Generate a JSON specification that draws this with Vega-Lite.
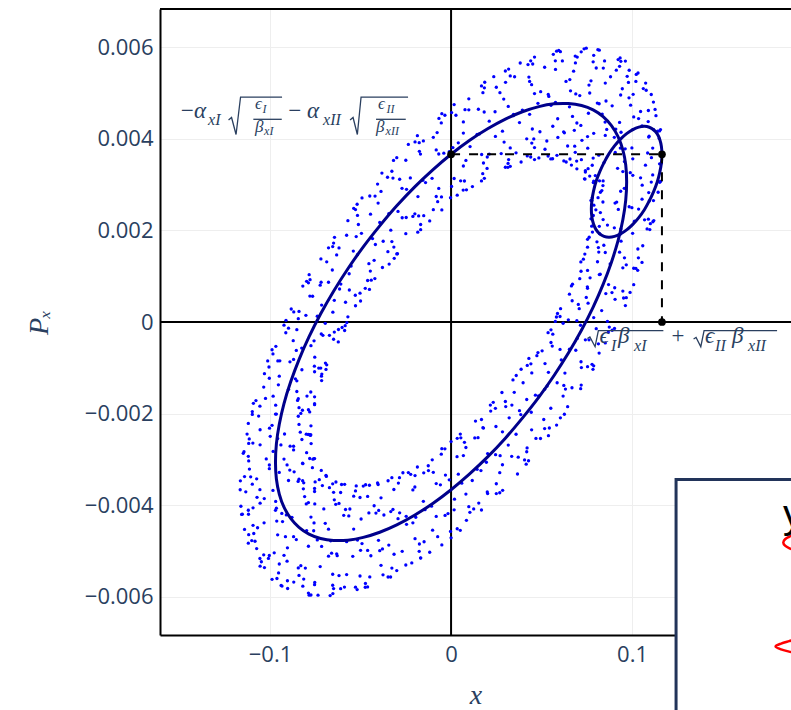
{
"$schema":"https://vega.github.io/schema/vega-lite/v6.json",
"width":631,"height":626,
"autosize":{"type":"none"},
"padding":{"left":160,"top":9,"right":0,"bottom":75},
"background":"white",
"config":{"view":{"stroke":null},
"axis":{"domainColor":"#000000","domainWidth":2,"ticks":false,"grid":true,"gridColor":"#eeeeee","gridWidth":1,"labelColor":"#2a3f5f","labelFont":"Open Sans","labelFontSize":22,"titleColor":"#2a3f5f","titleFont":"Liberation Serif","titleFontStyle":"italic","titleFontWeight":"normal","titleFontSize":28,"labelFlush":false,"labelOverlap":false}},
"datasets":{
"dots":[
{"x":116.2e-3,"y":3469e-6},{"x":77.8e-3,"y":2651e-6},{"x":109.5e-3,"y":2642e-6},{"x":84.5e-3,"y":3478e-6},{"x":93.6e-3,"y":1922e-6},{"x":100.4e-3,"y":4198e-6},{"x":82.1e-3,"y":1925e-6},{"x":111.9e-3,"y":4195e-6},
{"x":111.8e-3,"y":2650e-6},{"x":82.0e-3,"y":3080e-6},{"x":100.3e-3,"y":1935e-6},{"x":93.5e-3,"y":3795e-6},{"x":84.4e-3,"y":1675e-6},{"x":109.4e-3,"y":4055e-6},{"x":77.7e-3,"y":2092e-6},{"x":116.1e-3,"y":3638e-6},
{"x":115.7e-3,"y":3070e-6},{"x":77.3e-3,"y":2252e-6},{"x":109.0e-3,"y":2243e-6},{"x":84.0e-3,"y":3079e-6},{"x":93.1e-3,"y":1523e-6},{"x":99.9e-3,"y":3799e-6},{"x":81.6e-3,"y":1526e-6},{"x":111.4e-3,"y":3796e-6},
{"x":108.3e-3,"y":2032e-6},{"x":83.3e-3,"y":2868e-6},{"x":95.8e-3,"y":1400e-6},{"x":95.8e-3,"y":3500e-6},{"x":80.9e-3,"y":1315e-6},{"x":110.7e-3,"y":3585e-6},{"x":76.3e-3,"y":1850e-6},{"x":115.3e-3,"y":3050e-6},
{"x":114.4e-3,"y":2832e-6},{"x":75.4e-3,"y":1632e-6},{"x":109.8e-3,"y":2017e-6},{"x":80.0e-3,"y":2447e-6},{"x":94.9e-3,"y":1182e-6},{"x":94.9e-3,"y":3282e-6},{"x":82.4e-3,"y":1042e-6},{"x":107.4e-3,"y":3422e-6},
{"x":112.0e-3,"y":2214e-6},{"x":75.4e-3,"y":1804e-6},{"x":103.5e-3,"y":1400e-6},{"x":83.9e-3,"y":2618e-6},{"x":87.0e-3,"y":817e-6},{"x":100.4e-3,"y":3201e-6},{"x":76.8e-3,"y":964e-6},{"x":110.6e-3,"y":3054e-6},
{"x":102.1e-3,"y":1170e-6},{"x":82.5e-3,"y":2388e-6},{"x":88.9e-3,"y":641e-6},{"x":95.7e-3,"y":2917e-6},{"x":75.4e-3,"y":734e-6},{"x":109.2e-3,"y":2824e-6},{"x":73.1e-3,"y":1370e-6},{"x":111.5e-3,"y":2188e-6},
{"x":103.1e-3,"y":1127e-6},{"x":78.1e-3,"y":1963e-6},{"x":90.6e-3,"y":495e-6},{"x":90.6e-3,"y":2595e-6},{"x":75.7e-3,"y":410e-6},{"x":105.5e-3,"y":2680e-6},{"x":71.1e-3,"y":945e-6},{"x":110.1e-3,"y":2145e-6},
{"x":105.5e-3,"y":1301e-6},{"x":71.7e-3,"y":1311e-6},{"x":95.3e-3,"y":524e-6},{"x":81.9e-3,"y":2088e-6},{"x":78.8e-3,"y":97e-6},{"x":98.4e-3,"y":2515e-6},{"x":70.3e-3,"y":383e-6},{"x":106.9e-3,"y":2229e-6},
{"x":98.9e-3,"y":646e-6},{"x":73.9e-3,"y":1482e-6},{"x":86.4e-3,"y":14e-6},{"x":86.4e-3,"y":2114e-6},{"x":71.5e-3,"y":-71e-6},{"x":101.3e-3,"y":2199e-6},{"x":66.9e-3,"y":464e-6},{"x":105.9e-3,"y":1664e-6},
{"x":87.4e-3,"y":-110e-6},{"x":80.6e-3,"y":1750e-6},{"x":74.2e-3,"y":-389e-6},{"x":93.8e-3,"y":2029e-6},{"x":64.8e-3,"y":47e-6},{"x":103.2e-3,"y":1593e-6},{"x":67.1e-3,"y":825e-6},{"x":100.9e-3,"y":815e-6},
{"x":100.9e-3,"y":1173e-6},{"x":61.9e-3,"y":-27e-6},{"x":96.3e-3,"y":358e-6},{"x":66.5e-3,"y":788e-6},{"x":81.4e-3,"y":-477e-6},{"x":81.4e-3,"y":1623e-6},{"x":68.9e-3,"y":-617e-6},{"x":93.9e-3,"y":1763e-6},
{"x":85.2e-3,"y":-457e-6},{"x":71.8e-3,"y":1107e-6},{"x":71.8e-3,"y":-867e-6},{"x":85.2e-3,"y":1517e-6},{"x":60.2e-3,"y":-598e-6},{"x":96.8e-3,"y":1248e-6},{"x":60.2e-3,"y":120e-6},{"x":96.8e-3,"y":530e-6},
{"x":94.9e-3,"y":675e-6},{"x":55.9e-3,"y":-525e-6},{"x":90.3e-3,"y":-140e-6},{"x":60.5e-3,"y":290e-6},{"x":75.4e-3,"y":-975e-6},{"x":75.4e-3,"y":1125e-6},{"x":62.9e-3,"y":-1115e-6},{"x":87.9e-3,"y":1265e-6},
{"x":89.0e-3,"y":-180e-6},{"x":55.2e-3,"y":-170e-6},{"x":78.8e-3,"y":-957e-6},{"x":65.4e-3,"y":607e-6},{"x":62.3e-3,"y":-1384e-6},{"x":81.9e-3,"y":1034e-6},{"x":53.8e-3,"y":-1098e-6},{"x":90.4e-3,"y":748e-6},
{"x":86.9e-3,"y":-219e-6},{"x":50.3e-3,"y":-629e-6},{"x":78.4e-3,"y":-1033e-6},{"x":58.8e-3,"y":185e-6},{"x":61.9e-3,"y":-1616e-6},{"x":75.3e-3,"y":768e-6},{"x":51.7e-3,"y":-1469e-6},{"x":85.5e-3,"y":621e-6},
{"x":81.8e-3,"y":-678e-6},{"x":48.0e-3,"y":-668e-6},{"x":71.6e-3,"y":-1455e-6},{"x":58.2e-3,"y":109e-6},{"x":55.1e-3,"y":-1882e-6},{"x":74.7e-3,"y":536e-6},{"x":46.6e-3,"y":-1596e-6},{"x":83.2e-3,"y":250e-6},
{"x":64.4e-3,"y":-1848e-6},{"x":57.6e-3,"y":12e-6},{"x":51.2e-3,"y":-2127e-6},{"x":70.8e-3,"y":291e-6},{"x":41.8e-3,"y":-1691e-6},{"x":80.2e-3,"y":-145e-6},{"x":44.1e-3,"y":-913e-6},{"x":77.9e-3,"y":-923e-6},
{"x":71.9e-3,"y":-1377e-6},{"x":42.1e-3,"y":-947e-6},{"x":60.4e-3,"y":-2092e-6},{"x":53.6e-3,"y":-232e-6},{"x":44.5e-3,"y":-2352e-6},{"x":69.5e-3,"y":28e-6},{"x":37.8e-3,"y":-1935e-6},{"x":76.2e-3,"y":-389e-6},
{"x":62.6e-3,"y":-2013e-6},{"x":43.0e-3,"y":-795e-6},{"x":49.4e-3,"y":-2542e-6},{"x":56.2e-3,"y":-266e-6},{"x":35.9e-3,"y":-2449e-6},{"x":69.7e-3,"y":-359e-6},{"x":33.6e-3,"y":-1813e-6},{"x":72.0e-3,"y":-995e-6},
{"x":66.8e-3,"y":-1435e-6},{"x":30.2e-3,"y":-1845e-6},{"x":58.3e-3,"y":-2249e-6},{"x":38.7e-3,"y":-1031e-6},{"x":41.8e-3,"y":-2832e-6},{"x":55.2e-3,"y":-448e-6},{"x":31.6e-3,"y":-2685e-6},{"x":65.4e-3,"y":-595e-6},
{"x":53.8e-3,"y":-2481e-6},{"x":34.2e-3,"y":-1263e-6},{"x":40.6e-3,"y":-3010e-6},{"x":47.4e-3,"y":-734e-6},{"x":27.1e-3,"y":-2917e-6},{"x":60.9e-3,"y":-827e-6},{"x":24.8e-3,"y":-2281e-6},{"x":63.2e-3,"y":-1463e-6},
{"x":54.3e-3,"y":-2313e-6},{"x":24.5e-3,"y":-1883e-6},{"x":42.8e-3,"y":-3028e-6},{"x":36.0e-3,"y":-1168e-6},{"x":26.9e-3,"y":-3288e-6},{"x":51.9e-3,"y":-908e-6},{"x":20.2e-3,"y":-2871e-6},{"x":58.6e-3,"y":-1325e-6},
{"x":51.7e-3,"y":-2325e-6},{"x":17.9e-3,"y":-2315e-6},{"x":41.5e-3,"y":-3102e-6},{"x":28.1e-3,"y":-1538e-6},{"x":25.0e-3,"y":-3529e-6},{"x":44.6e-3,"y":-1111e-6},{"x":16.5e-3,"y":-3243e-6},{"x":53.1e-3,"y":-1397e-6},
{"x":46.9e-3,"y":-2540e-6},{"x":13.1e-3,"y":-2530e-6},{"x":36.7e-3,"y":-3317e-6},{"x":23.3e-3,"y":-1753e-6},{"x":20.2e-3,"y":-3744e-6},{"x":39.8e-3,"y":-1326e-6},{"x":11.7e-3,"y":-3458e-6},{"x":48.3e-3,"y":-1612e-6},
{"x":28.5e-3,"y":-3673e-6},{"x":21.7e-3,"y":-1813e-6},{"x":15.3e-3,"y":-3952e-6},{"x":34.9e-3,"y":-1534e-6},{"x":5.9e-3,"y":-3516e-6},{"x":44.3e-3,"y":-1970e-6},{"x":8.2e-3,"y":-2738e-6},{"x":42.0e-3,"y":-2748e-6},
{"x":37.1e-3,"y":-2949e-6},{"x":3.3e-3,"y":-2939e-6},{"x":26.9e-3,"y":-3726e-6},{"x":13.5e-3,"y":-2162e-6},{"x":10.4e-3,"y":-4153e-6},{"x":30.0e-3,"y":-1735e-6},{"x":1.9e-3,"y":-3867e-6},{"x":38.5e-3,"y":-2021e-6},
{"x":33.5e-3,"y":-2931e-6},{"x":-3.1e-3,"y":-3341e-6},{"x":25.0e-3,"y":-3745e-6},{"x":5.4e-3,"y":-2527e-6},{"x":8.5e-3,"y":-4328e-6},{"x":21.9e-3,"y":-1944e-6},{"x":-1.7e-3,"y":-4181e-6},{"x":32.1e-3,"y":-2091e-6},
{"x":16.8e-3,"y":-4102e-6},{"x":3.4e-3,"y":-2538e-6},{"x":3.4e-3,"y":-4512e-6},{"x":16.8e-3,"y":-2128e-6},{"x":-8.2e-3,"y":-4243e-6},{"x":28.4e-3,"y":-2397e-6},{"x":-8.2e-3,"y":-3525e-6},{"x":28.4e-3,"y":-3115e-6},
{"x":24.6e-3,"y":-2895e-6},{"x":-14.4e-3,"y":-4095e-6},{"x":20.0e-3,"y":-3710e-6},{"x":-9.8e-3,"y":-3280e-6},{"x":5.1e-3,"y":-4545e-6},{"x":5.1e-3,"y":-2445e-6},{"x":-7.4e-3,"y":-4685e-6},{"x":17.6e-3,"y":-2305e-6},
{"x":12.5e-3,"y":-4078e-6},{"x":-12.5e-3,"y":-3242e-6},{"x":0e-3,"y":-4710e-6},{"x":0e-3,"y":-2610e-6},{"x":-14.9e-3,"y":-4795e-6},{"x":14.9e-3,"y":-2525e-6},{"x":-19.5e-3,"y":-4260e-6},{"x":19.5e-3,"y":-3060e-6},
{"x":14.4e-3,"y":-3215e-6},{"x":-24.6e-3,"y":-4415e-6},{"x":9.8e-3,"y":-4030e-6},{"x":-20.0e-3,"y":-3600e-6},{"x":-5.1e-3,"y":-4865e-6},{"x":-5.1e-3,"y":-2765e-6},{"x":-17.6e-3,"y":-5005e-6},{"x":7.4e-3,"y":-2625e-6},
{"x":8.2e-3,"y":-3755e-6},{"x":-28.4e-3,"y":-4165e-6},{"x":-0.3e-3,"y":-4569e-6},{"x":-19.9e-3,"y":-3351e-6},{"x":-16.8e-3,"y":-5152e-6},{"x":-3.4e-3,"y":-2768e-6},{"x":-27.0e-3,"y":-5005e-6},{"x":6.8e-3,"y":-2915e-6},
{"x":-11.8e-3,"y":-5024e-6},{"x":-18.6e-3,"y":-3164e-6},{"x":-25.0e-3,"y":-5303e-6},{"x":-5.4e-3,"y":-2885e-6},{"x":-34.4e-3,"y":-4867e-6},{"x":4.0e-3,"y":-3321e-6},{"x":-32.1e-3,"y":-4089e-6},{"x":1.7e-3,"y":-4099e-6},
{"x":-16.8e-3,"y":-5146e-6},{"x":-23.6e-3,"y":-3286e-6},{"x":-30.0e-3,"y":-5425e-6},{"x":-10.4e-3,"y":-3007e-6},{"x":-39.4e-3,"y":-4989e-6},{"x":-1.0e-3,"y":-3443e-6},{"x":-37.1e-3,"y":-4211e-6},{"x":-3.3e-3,"y":-4221e-6},
{"x":-10.2e-3,"y":-4542e-6},{"x":-40.0e-3,"y":-4112e-6},{"x":-21.7e-3,"y":-5257e-6},{"x":-28.5e-3,"y":-3397e-6},{"x":-37.6e-3,"y":-5517e-6},{"x":-12.6e-3,"y":-3137e-6},{"x":-44.3e-3,"y":-5100e-6},{"x":-5.9e-3,"y":-3554e-6},
{"x":-10.8e-3,"y":-4018e-6},{"x":-49.2e-3,"y":-4836e-6},{"x":-17.5e-3,"y":-4845e-6},{"x":-42.5e-3,"y":-4009e-6},{"x":-33.4e-3,"y":-5565e-6},{"x":-26.6e-3,"y":-3289e-6},{"x":-44.9e-3,"y":-5562e-6},{"x":-15.1e-3,"y":-3292e-6},
{"x":-15.3e-3,"y":-3914e-6},{"x":-54.3e-3,"y":-5114e-6},{"x":-19.9e-3,"y":-4729e-6},{"x":-49.7e-3,"y":-4299e-6},{"x":-34.8e-3,"y":-5564e-6},{"x":-34.8e-3,"y":-3464e-6},{"x":-47.3e-3,"y":-5704e-6},{"x":-22.3e-3,"y":-3324e-6},
{"x":-32.7e-3,"y":-5370e-6},{"x":-46.1e-3,"y":-3806e-6},{"x":-46.1e-3,"y":-5780e-6},{"x":-32.7e-3,"y":-3396e-6},{"x":-57.7e-3,"y":-5511e-6},{"x":-21.1e-3,"y":-3665e-6},{"x":-57.7e-3,"y":-4793e-6},{"x":-21.1e-3,"y":-4383e-6},
{"x":-24.8e-3,"y":-4241e-6},{"x":-63.2e-3,"y":-5059e-6},{"x":-31.5e-3,"y":-5068e-6},{"x":-56.5e-3,"y":-4232e-6},{"x":-47.4e-3,"y":-5788e-6},{"x":-40.6e-3,"y":-3512e-6},{"x":-58.9e-3,"y":-5785e-6},{"x":-29.1e-3,"y":-3515e-6},
{"x":-38.7e-3,"y":-5309e-6},{"x":-58.3e-3,"y":-4091e-6},{"x":-51.9e-3,"y":-5838e-6},{"x":-45.1e-3,"y":-3562e-6},{"x":-65.4e-3,"y":-5745e-6},{"x":-31.6e-3,"y":-3655e-6},{"x":-67.7e-3,"y":-5109e-6},{"x":-29.3e-3,"y":-4291e-6},
{"x":-33.3e-3,"y":-4136e-6},{"x":-72.3e-3,"y":-5336e-6},{"x":-37.9e-3,"y":-4951e-6},{"x":-67.7e-3,"y":-4521e-6},{"x":-52.8e-3,"y":-5786e-6},{"x":-52.8e-3,"y":-3686e-6},{"x":-65.3e-3,"y":-5926e-6},{"x":-40.3e-3,"y":-3546e-6},
{"x":-40.1e-3,"y":-4765e-6},{"x":-73.9e-3,"y":-4755e-6},{"x":-50.3e-3,"y":-5542e-6},{"x":-63.7e-3,"y":-3978e-6},{"x":-66.8e-3,"y":-5969e-6},{"x":-47.2e-3,"y":-3551e-6},{"x":-75.3e-3,"y":-5683e-6},{"x":-38.7e-3,"y":-3837e-6},
{"x":-41.5e-3,"y":-4170e-6},{"x":-80.5e-3,"y":-5370e-6},{"x":-46.1e-3,"y":-4985e-6},{"x":-75.9e-3,"y":-4555e-6},{"x":-61.0e-3,"y":-5820e-6},{"x":-61.0e-3,"y":-3720e-6},{"x":-73.5e-3,"y":-5960e-6},{"x":-48.5e-3,"y":-3580e-6},
{"x":-45.4e-3,"y":-4167e-6},{"x":-84.4e-3,"y":-5367e-6},{"x":-50.0e-3,"y":-4982e-6},{"x":-79.8e-3,"y":-4552e-6},{"x":-64.9e-3,"y":-5817e-6},{"x":-64.9e-3,"y":-3717e-6},{"x":-77.4e-3,"y":-5957e-6},{"x":-52.4e-3,"y":-3577e-6},
{"x":-51.7e-3,"y":-4757e-6},{"x":-85.5e-3,"y":-4747e-6},{"x":-61.9e-3,"y":-5534e-6},{"x":-75.3e-3,"y":-3970e-6},{"x":-78.4e-3,"y":-5961e-6},{"x":-58.8e-3,"y":-3543e-6},{"x":-86.9e-3,"y":-5675e-6},{"x":-50.3e-3,"y":-3829e-6},
{"x":-65.4e-3,"y":-5505e-6},{"x":-78.8e-3,"y":-3941e-6},{"x":-78.8e-3,"y":-5915e-6},{"x":-65.4e-3,"y":-3531e-6},{"x":-90.4e-3,"y":-5646e-6},{"x":-53.8e-3,"y":-3800e-6},{"x":-90.4e-3,"y":-4928e-6},{"x":-53.8e-3,"y":-4518e-6},
{"x":-62.9e-3,"y":-5099e-6},{"x":-87.9e-3,"y":-4263e-6},{"x":-75.4e-3,"y":-5731e-6},{"x":-75.4e-3,"y":-3631e-6},{"x":-90.3e-3,"y":-5816e-6},{"x":-60.5e-3,"y":-3546e-6},{"x":-94.9e-3,"y":-5281e-6},{"x":-55.9e-3,"y":-4081e-6},
{"x":-59.3e-3,"y":-4218e-6},{"x":-97.7e-3,"y":-5036e-6},{"x":-66.0e-3,"y":-5045e-6},{"x":-91.0e-3,"y":-4209e-6},{"x":-81.9e-3,"y":-5765e-6},{"x":-75.1e-3,"y":-3489e-6},{"x":-93.4e-3,"y":-5762e-6},{"x":-63.6e-3,"y":-3492e-6},
{"x":-61.9e-3,"y":-3959e-6},{"x":-100.9e-3,"y":-5159e-6},{"x":-66.5e-3,"y":-4774e-6},{"x":-96.3e-3,"y":-4344e-6},{"x":-81.4e-3,"y":-5609e-6},{"x":-81.4e-3,"y":-3509e-6},{"x":-93.9e-3,"y":-5749e-6},{"x":-68.9e-3,"y":-3369e-6},
{"x":-71.5e-3,"y":-4898e-6},{"x":-96.5e-3,"y":-4062e-6},{"x":-84.0e-3,"y":-5530e-6},{"x":-84.0e-3,"y":-3430e-6},{"x":-98.9e-3,"y":-5615e-6},{"x":-69.1e-3,"y":-3345e-6},{"x":-103.5e-3,"y":-5080e-6},{"x":-64.5e-3,"y":-3880e-6},
{"x":-83.0e-3,"y":-5318e-6},{"x":-89.8e-3,"y":-3458e-6},{"x":-96.2e-3,"y":-5597e-6},{"x":-76.6e-3,"y":-3179e-6},{"x":-105.6e-3,"y":-5161e-6},{"x":-67.2e-3,"y":-3615e-6},{"x":-103.3e-3,"y":-4383e-6},{"x":-69.5e-3,"y":-4393e-6},
{"x":-70.3e-3,"y":-4079e-6},{"x":-106.9e-3,"y":-4489e-6},{"x":-78.8e-3,"y":-4893e-6},{"x":-98.4e-3,"y":-3675e-6},{"x":-95.3e-3,"y":-5476e-6},{"x":-81.9e-3,"y":-3092e-6},{"x":-105.5e-3,"y":-5329e-6},{"x":-71.7e-3,"y":-3239e-6},
{"x":-71.1e-3,"y":-3569e-6},{"x":-110.1e-3,"y":-4769e-6},{"x":-75.7e-3,"y":-4384e-6},{"x":-105.5e-3,"y":-3954e-6},{"x":-90.6e-3,"y":-5219e-6},{"x":-90.6e-3,"y":-3119e-6},{"x":-103.1e-3,"y":-5359e-6},{"x":-78.1e-3,"y":-2979e-6},
{"x":-72.8e-3,"y":-3441e-6},{"x":-111.8e-3,"y":-4641e-6},{"x":-77.4e-3,"y":-4256e-6},{"x":-107.2e-3,"y":-3826e-6},{"x":-92.3e-3,"y":-5091e-6},{"x":-92.3e-3,"y":-2991e-6},{"x":-104.8e-3,"y":-5231e-6},{"x":-79.8e-3,"y":-2851e-6},
{"x":-87.0e-3,"y":-4685e-6},{"x":-100.4e-3,"y":-3121e-6},{"x":-100.4e-3,"y":-5095e-6},{"x":-87.0e-3,"y":-2711e-6},{"x":-112.0e-3,"y":-4826e-6},{"x":-75.4e-3,"y":-2980e-6},{"x":-112.0e-3,"y":-4108e-6},{"x":-75.4e-3,"y":-3698e-6},
{"x":-80.0e-3,"y":-3969e-6},{"x":-109.8e-3,"y":-3539e-6},{"x":-91.5e-3,"y":-4684e-6},{"x":-98.3e-3,"y":-2824e-6},{"x":-107.4e-3,"y":-4944e-6},{"x":-82.4e-3,"y":-2564e-6},{"x":-114.1e-3,"y":-4527e-6},{"x":-75.7e-3,"y":-2981e-6},
{"x":-76.3e-3,"y":-2994e-6},{"x":-115.3e-3,"y":-4194e-6},{"x":-80.9e-3,"y":-3809e-6},{"x":-110.7e-3,"y":-3379e-6},{"x":-95.8e-3,"y":-4644e-6},{"x":-95.8e-3,"y":-2544e-6},{"x":-108.3e-3,"y":-4784e-6},{"x":-83.3e-3,"y":-2404e-6},
{"x":-81.6e-3,"y":-3640e-6},{"x":-111.4e-3,"y":-3210e-6},{"x":-93.1e-3,"y":-4355e-6},{"x":-99.9e-3,"y":-2495e-6},{"x":-109.0e-3,"y":-4615e-6},{"x":-84.0e-3,"y":-2235e-6},{"x":-115.7e-3,"y":-4198e-6},{"x":-77.3e-3,"y":-2652e-6},
{"x":-82.0e-3,"y":-3462e-6},{"x":-111.8e-3,"y":-3032e-6},{"x":-93.5e-3,"y":-4177e-6},{"x":-100.3e-3,"y":-2317e-6},{"x":-109.4e-3,"y":-4437e-6},{"x":-84.4e-3,"y":-2057e-6},{"x":-116.1e-3,"y":-4020e-6},{"x":-77.7e-3,"y":-2474e-6},
{"x":-84.5e-3,"y":-3478e-6},{"x":-109.5e-3,"y":-2642e-6},{"x":-97.0e-3,"y":-4110e-6},{"x":-97.0e-3,"y":-2010e-6},{"x":-111.9e-3,"y":-4195e-6},{"x":-82.1e-3,"y":-1925e-6},{"x":-116.5e-3,"y":-3660e-6},{"x":-77.5e-3,"y":-2460e-6},
{"x":-77.4e-3,"y":-2265e-6},{"x":-116.4e-3,"y":-3465e-6},{"x":-82.0e-3,"y":-3080e-6},{"x":-111.8e-3,"y":-2650e-6},{"x":-96.9e-3,"y":-3915e-6},{"x":-96.9e-3,"y":-1815e-6},{"x":-109.4e-3,"y":-4055e-6},{"x":-84.4e-3,"y":-1675e-6},
{"x":-78.2e-3,"y":-2456e-6},{"x":-114.8e-3,"y":-2866e-6},{"x":-86.7e-3,"y":-3270e-6},{"x":-106.3e-3,"y":-2052e-6},{"x":-103.2e-3,"y":-3853e-6},{"x":-89.8e-3,"y":-1469e-6},{"x":-113.4e-3,"y":-3706e-6},{"x":-79.6e-3,"y":-1616e-6},
{"x":-78.9e-3,"y":-2455e-6},{"x":-112.7e-3,"y":-2445e-6},{"x":-89.1e-3,"y":-3232e-6},{"x":-102.5e-3,"y":-1668e-6},{"x":-105.6e-3,"y":-3659e-6},{"x":-86.0e-3,"y":-1241e-6},{"x":-114.1e-3,"y":-3373e-6},{"x":-77.5e-3,"y":-1527e-6},
{"x":-75.4e-3,"y":-1632e-6},{"x":-114.4e-3,"y":-2832e-6},{"x":-80.0e-3,"y":-2447e-6},{"x":-109.8e-3,"y":-2017e-6},{"x":-94.9e-3,"y":-3282e-6},{"x":-94.9e-3,"y":-1182e-6},{"x":-107.4e-3,"y":-3422e-6},{"x":-82.4e-3,"y":-1042e-6},
{"x":-87.0e-3,"y":-2791e-6},{"x":-100.4e-3,"y":-1227e-6},{"x":-100.4e-3,"y":-3201e-6},{"x":-87.0e-3,"y":-817e-6},{"x":-112.0e-3,"y":-2932e-6},{"x":-75.4e-3,"y":-1086e-6},{"x":-112.0e-3,"y":-2214e-6},{"x":-75.4e-3,"y":-1804e-6},
{"x":-88.9e-3,"y":-2709e-6},{"x":-95.7e-3,"y":-849e-6},{"x":-102.1e-3,"y":-2988e-6},{"x":-82.5e-3,"y":-570e-6},{"x":-111.5e-3,"y":-2552e-6},{"x":-73.1e-3,"y":-1006e-6},{"x":-109.2e-3,"y":-1774e-6},{"x":-75.4e-3,"y":-1784e-6},
{"x":-71.4e-3,"y":-1136e-6},{"x":-109.8e-3,"y":-1954e-6},{"x":-78.1e-3,"y":-1963e-6},{"x":-103.1e-3,"y":-1127e-6},{"x":-94.0e-3,"y":-2683e-6},{"x":-87.2e-3,"y":-407e-6},{"x":-105.5e-3,"y":-2680e-6},{"x":-75.7e-3,"y":-410e-6},
{"x":-78.8e-3,"y":-1915e-6},{"x":-98.4e-3,"y":-697e-6},{"x":-92.0e-3,"y":-2444e-6},{"x":-85.2e-3,"y":-168e-6},{"x":-105.5e-3,"y":-2351e-6},{"x":-71.7e-3,"y":-261e-6},{"x":-107.8e-3,"y":-1715e-6},{"x":-69.4e-3,"y":-897e-6},
{"x":-71.5e-3,"y":-1279e-6},{"x":-101.3e-3,"y":-849e-6},{"x":-83.0e-3,"y":-1994e-6},{"x":-89.8e-3,"y":-134e-6},{"x":-98.9e-3,"y":-2254e-6},{"x":-73.9e-3,"y":126e-6},{"x":-105.6e-3,"y":-1837e-6},{"x":-67.2e-3,"y":-291e-6},
{"x":-64.5e-3,"y":-220e-6},{"x":-103.5e-3,"y":-1420e-6},{"x":-69.1e-3,"y":-1035e-6},{"x":-98.9e-3,"y":-605e-6},{"x":-84.0e-3,"y":-1870e-6},{"x":-84.0e-3,"y":230e-6},{"x":-96.5e-3,"y":-2010e-6},{"x":-71.5e-3,"y":370e-6},
{"x":-71.6e-3,"y":-1182e-6},{"x":-91.2e-3,"y":36e-6},{"x":-84.8e-3,"y":-1711e-6},{"x":-78.0e-3,"y":565e-6},{"x":-98.3e-3,"y":-1618e-6},{"x":-64.5e-3,"y":472e-6},{"x":-100.6e-3,"y":-982e-6},{"x":-62.2e-3,"y":-164e-6},
{"x":-60.2e-3,"y":-120e-6},{"x":-96.8e-3,"y":-530e-6},{"x":-68.7e-3,"y":-934e-6},{"x":-88.3e-3,"y":284e-6},{"x":-85.2e-3,"y":-1517e-6},{"x":-71.8e-3,"y":867e-6},{"x":-95.4e-3,"y":-1370e-6},{"x":-61.6e-3,"y":720e-6},
{"x":-72.0e-3,"y":-1005e-6},{"x":-78.8e-3,"y":855e-6},{"x":-85.2e-3,"y":-1284e-6},{"x":-65.6e-3,"y":1134e-6},{"x":-94.6e-3,"y":-848e-6},{"x":-56.2e-3,"y":698e-6},{"x":-92.3e-3,"y":-70e-6},{"x":-58.5e-3,"y":-80e-6},
{"x":-62.3e-3,"y":-434e-6},{"x":-81.9e-3,"y":784e-6},{"x":-75.5e-3,"y":-963e-6},{"x":-68.7e-3,"y":1313e-6},{"x":-89.0e-3,"y":-870e-6},{"x":-55.2e-3,"y":1220e-6},{"x":-91.3e-3,"y":-234e-6},{"x":-52.9e-3,"y":584e-6},
{"x":-50.3e-3,"y":629e-6},{"x":-86.9e-3,"y":219e-6},{"x":-58.8e-3,"y":-185e-6},{"x":-78.4e-3,"y":1033e-6},{"x":-75.3e-3,"y":-768e-6},{"x":-61.9e-3,"y":1616e-6},{"x":-85.5e-3,"y":-621e-6},{"x":-51.7e-3,"y":1469e-6},
{"x":-45.4e-3,"y":1273e-6},{"x":-84.4e-3,"y":73e-6},{"x":-50.0e-3,"y":458e-6},{"x":-79.8e-3,"y":888e-6},{"x":-64.9e-3,"y":-377e-6},{"x":-64.9e-3,"y":1723e-6},{"x":-77.4e-3,"y":-517e-6},{"x":-52.4e-3,"y":1863e-6},
{"x":-57.6e-3,"y":-12e-6},{"x":-64.4e-3,"y":1848e-6},{"x":-70.8e-3,"y":-291e-6},{"x":-51.2e-3,"y":2127e-6},{"x":-80.2e-3,"y":145e-6},{"x":-41.8e-3,"y":1691e-6},{"x":-77.9e-3,"y":923e-6},{"x":-44.1e-3,"y":913e-6},
{"x":-37.5e-3,"y":1762e-6},{"x":-76.5e-3,"y":562e-6},{"x":-42.1e-3,"y":947e-6},{"x":-71.9e-3,"y":1377e-6},{"x":-57.0e-3,"y":112e-6},{"x":-57.0e-3,"y":2212e-6},{"x":-69.5e-3,"y":-28e-6},{"x":-44.5e-3,"y":2352e-6},
{"x":-33.3e-3,"y":2004e-6},{"x":-72.3e-3,"y":804e-6},{"x":-37.9e-3,"y":1189e-6},{"x":-67.7e-3,"y":1619e-6},{"x":-52.8e-3,"y":354e-6},{"x":-52.8e-3,"y":2454e-6},{"x":-65.3e-3,"y":214e-6},{"x":-40.3e-3,"y":2594e-6},
{"x":-45.1e-3,"y":710e-6},{"x":-51.9e-3,"y":2570e-6},{"x":-58.3e-3,"y":431e-6},{"x":-38.7e-3,"y":2849e-6},{"x":-67.7e-3,"y":867e-6},{"x":-29.3e-3,"y":2413e-6},{"x":-65.4e-3,"y":1645e-6},{"x":-31.6e-3,"y":1635e-6},
{"x":-34.2e-3,"y":1263e-6},{"x":-53.8e-3,"y":2481e-6},{"x":-47.4e-3,"y":734e-6},{"x":-40.6e-3,"y":3010e-6},{"x":-60.9e-3,"y":827e-6},{"x":-27.1e-3,"y":2917e-6},{"x":-63.2e-3,"y":1463e-6},{"x":-24.8e-3,"y":2281e-6},
{"x":-21.1e-3,"y":2303e-6},{"x":-57.7e-3,"y":1893e-6},{"x":-29.6e-3,"y":1489e-6},{"x":-49.2e-3,"y":2707e-6},{"x":-46.1e-3,"y":906e-6},{"x":-32.7e-3,"y":3290e-6},{"x":-56.3e-3,"y":1053e-6},{"x":-22.5e-3,"y":3143e-6},
{"x":-31.4e-3,"y":1390e-6},{"x":-38.2e-3,"y":3250e-6},{"x":-44.6e-3,"y":1111e-6},{"x":-25.0e-3,"y":3529e-6},{"x":-54.0e-3,"y":1547e-6},{"x":-15.6e-3,"y":3093e-6},{"x":-51.7e-3,"y":2325e-6},{"x":-17.9e-3,"y":2315e-6},
{"x":-10.5e-3,"y":3135e-6},{"x":-49.5e-3,"y":1935e-6},{"x":-15.1e-3,"y":2320e-6},{"x":-44.9e-3,"y":2750e-6},{"x":-30.0e-3,"y":1485e-6},{"x":-30.0e-3,"y":3585e-6},{"x":-42.5e-3,"y":1345e-6},{"x":-17.5e-3,"y":3725e-6},
{"x":-8.2e-3,"y":2738e-6},{"x":-42.0e-3,"y":2748e-6},{"x":-18.4e-3,"y":1961e-6},{"x":-31.8e-3,"y":3525e-6},{"x":-34.9e-3,"y":1534e-6},{"x":-15.3e-3,"y":3952e-6},{"x":-43.4e-3,"y":1820e-6},{"x":-6.8e-3,"y":3666e-6},
{"x":-5.3e-3,"y":2729e-6},{"x":-35.1e-3,"y":3159e-6},{"x":-16.8e-3,"y":2014e-6},{"x":-23.6e-3,"y":3874e-6},{"x":-32.7e-3,"y":1754e-6},{"x":-7.7e-3,"y":4134e-6},{"x":-39.4e-3,"y":2171e-6},{"x":-1.0e-3,"y":3717e-6},
{"x":-11.8e-3,"y":2206e-6},{"x":-18.6e-3,"y":4066e-6},{"x":-25.0e-3,"y":1927e-6},{"x":-5.4e-3,"y":4345e-6},{"x":-34.4e-3,"y":2363e-6},{"x":4.0e-3,"y":3909e-6},{"x":-32.1e-3,"y":3141e-6},{"x":1.7e-3,"y":3131e-6},
{"x":8.2e-3,"y":3525e-6},{"x":-28.4e-3,"y":3115e-6},{"x":-0.3e-3,"y":2711e-6},{"x":-19.9e-3,"y":3929e-6},{"x":-16.8e-3,"y":2128e-6},{"x":-3.4e-3,"y":4512e-6},{"x":-27.0e-3,"y":2275e-6},{"x":6.8e-3,"y":4365e-6},
{"x":7.4e-3,"y":3077e-6},{"x":-17.6e-3,"y":3913e-6},{"x":-5.1e-3,"y":2445e-6},{"x":-5.1e-3,"y":4545e-6},{"x":-20.0e-3,"y":2360e-6},{"x":9.8e-3,"y":4630e-6},{"x":-24.6e-3,"y":2895e-6},{"x":14.4e-3,"y":4095e-6},
{"x":16.9e-3,"y":3655e-6},{"x":-16.9e-3,"y":3665e-6},{"x":6.7e-3,"y":2878e-6},{"x":-6.7e-3,"y":4442e-6},{"x":-9.8e-3,"y":2451e-6},{"x":9.8e-3,"y":4869e-6},{"x":-18.3e-3,"y":2737e-6},{"x":18.3e-3,"y":4583e-6},
{"x":20.0e-3,"y":3600e-6},{"x":-9.8e-3,"y":4030e-6},{"x":8.5e-3,"y":2885e-6},{"x":1.7e-3,"y":4745e-6},{"x":-7.4e-3,"y":2625e-6},{"x":17.6e-3,"y":5005e-6},{"x":-14.1e-3,"y":3042e-6},{"x":24.3e-3,"y":4588e-6},
{"x":28.4e-3,"y":4165e-6},{"x":-8.2e-3,"y":3755e-6},{"x":19.9e-3,"y":3351e-6},{"x":0.3e-3,"y":4569e-6},{"x":3.4e-3,"y":2768e-6},{"x":16.8e-3,"y":5152e-6},{"x":-6.8e-3,"y":2915e-6},{"x":27.0e-3,"y":5005e-6},
{"x":34.4e-3,"y":4503e-6},{"x":-4.0e-3,"y":3685e-6},{"x":27.7e-3,"y":3676e-6},{"x":2.7e-3,"y":4512e-6},{"x":11.8e-3,"y":2956e-6},{"x":18.6e-3,"y":5232e-6},{"x":0.3e-3,"y":2959e-6},{"x":30.1e-3,"y":5229e-6},
{"x":39.4e-3,"y":4625e-6},{"x":1.0e-3,"y":3807e-6},{"x":32.7e-3,"y":3798e-6},{"x":7.7e-3,"y":4634e-6},{"x":16.8e-3,"y":3078e-6},{"x":23.6e-3,"y":5354e-6},{"x":5.3e-3,"y":3081e-6},{"x":35.1e-3,"y":5351e-6},
{"x":31.8e-3,"y":3545e-6},{"x":18.4e-3,"y":5109e-6},{"x":18.4e-3,"y":3135e-6},{"x":31.8e-3,"y":5519e-6},{"x":6.8e-3,"y":3404e-6},{"x":43.4e-3,"y":5250e-6},{"x":6.8e-3,"y":4122e-6},{"x":43.4e-3,"y":4532e-6},
{"x":49.5e-3,"y":5027e-6},{"x":10.5e-3,"y":3827e-6},{"x":44.9e-3,"y":4212e-6},{"x":15.1e-3,"y":4642e-6},{"x":30.0e-3,"y":3377e-6},{"x":30.0e-3,"y":5477e-6},{"x":17.5e-3,"y":3237e-6},{"x":42.5e-3,"y":5617e-6},
{"x":44.6e-3,"y":3905e-6},{"x":25.0e-3,"y":5123e-6},{"x":31.4e-3,"y":3376e-6},{"x":38.2e-3,"y":5652e-6},{"x":17.9e-3,"y":3469e-6},{"x":51.7e-3,"y":5559e-6},{"x":15.6e-3,"y":4105e-6},{"x":54.0e-3,"y":4923e-6},
{"x":46.1e-3,"y":3806e-6},{"x":32.7e-3,"y":5370e-6},{"x":32.7e-3,"y":3396e-6},{"x":46.1e-3,"y":5780e-6},{"x":21.1e-3,"y":3665e-6},{"x":57.7e-3,"y":5511e-6},{"x":21.1e-3,"y":4383e-6},{"x":57.7e-3,"y":4793e-6},
{"x":63.5e-3,"y":5250e-6},{"x":24.5e-3,"y":4050e-6},{"x":58.9e-3,"y":4435e-6},{"x":29.1e-3,"y":4865e-6},{"x":44.0e-3,"y":3600e-6},{"x":44.0e-3,"y":5700e-6},{"x":31.5e-3,"y":3460e-6},{"x":56.5e-3,"y":5840e-6},
{"x":51.9e-3,"y":3770e-6},{"x":45.1e-3,"y":5630e-6},{"x":38.7e-3,"y":3491e-6},{"x":58.3e-3,"y":5909e-6},{"x":29.3e-3,"y":3927e-6},{"x":67.7e-3,"y":5473e-6},{"x":31.6e-3,"y":4705e-6},{"x":65.4e-3,"y":4695e-6},
{"x":71.1e-3,"y":4941e-6},{"x":34.5e-3,"y":4531e-6},{"x":62.6e-3,"y":4127e-6},{"x":43.0e-3,"y":5345e-6},{"x":46.1e-3,"y":3544e-6},{"x":59.5e-3,"y":5928e-6},{"x":35.9e-3,"y":3691e-6},{"x":69.7e-3,"y":5781e-6},
{"x":76.2e-3,"y":5169e-6},{"x":37.8e-3,"y":4351e-6},{"x":69.5e-3,"y":4342e-6},{"x":44.5e-3,"y":5178e-6},{"x":53.6e-3,"y":3622e-6},{"x":60.4e-3,"y":5898e-6},{"x":42.1e-3,"y":3625e-6},{"x":71.9e-3,"y":5895e-6},
{"x":75.9e-3,"y":4555e-6},{"x":46.1e-3,"y":4985e-6},{"x":64.4e-3,"y":3840e-6},{"x":57.6e-3,"y":5700e-6},{"x":48.5e-3,"y":3580e-6},{"x":73.5e-3,"y":5960e-6},{"x":41.8e-3,"y":3997e-6},{"x":80.2e-3,"y":5543e-6},
{"x":68.3e-3,"y":3837e-6},{"x":61.5e-3,"y":5697e-6},{"x":55.1e-3,"y":3558e-6},{"x":74.7e-3,"y":5976e-6},{"x":45.7e-3,"y":3994e-6},{"x":84.1e-3,"y":5540e-6},{"x":48.0e-3,"y":4772e-6},{"x":81.8e-3,"y":4762e-6},
{"x":88.1e-3,"y":5352e-6},{"x":49.1e-3,"y":4152e-6},{"x":83.5e-3,"y":4537e-6},{"x":53.7e-3,"y":4967e-6},{"x":68.6e-3,"y":3702e-6},{"x":68.6e-3,"y":5802e-6},{"x":56.1e-3,"y":3562e-6},{"x":81.1e-3,"y":5942e-6},
{"x":75.5e-3,"y":3793e-6},{"x":68.7e-3,"y":5653e-6},{"x":62.3e-3,"y":3514e-6},{"x":81.9e-3,"y":5932e-6},{"x":52.9e-3,"y":3950e-6},{"x":91.3e-3,"y":5496e-6},{"x":55.2e-3,"y":4728e-6},{"x":89.0e-3,"y":4718e-6},
{"x":85.2e-3,"y":4072e-6},{"x":65.6e-3,"y":5290e-6},{"x":72.0e-3,"y":3543e-6},{"x":78.8e-3,"y":5819e-6},{"x":58.5e-3,"y":3636e-6},{"x":92.3e-3,"y":5726e-6},{"x":56.2e-3,"y":4272e-6},{"x":94.6e-3,"y":5090e-6},
{"x":91.0e-3,"y":4209e-6},{"x":66.0e-3,"y":5045e-6},{"x":78.5e-3,"y":3577e-6},{"x":78.5e-3,"y":5677e-6},{"x":63.6e-3,"y":3492e-6},{"x":93.4e-3,"y":5762e-6},{"x":59.0e-3,"y":4027e-6},{"x":98.0e-3,"y":5227e-6},
{"x":100.6e-3,"y":4968e-6},{"x":62.2e-3,"y":4150e-6},{"x":93.9e-3,"y":4141e-6},{"x":68.9e-3,"y":4977e-6},{"x":78.0e-3,"y":3421e-6},{"x":84.8e-3,"y":5697e-6},{"x":66.5e-3,"y":3424e-6},{"x":96.3e-3,"y":5694e-6},
{"x":100.9e-3,"y":4475e-6},{"x":67.1e-3,"y":4485e-6},{"x":90.7e-3,"y":3698e-6},{"x":77.3e-3,"y":5262e-6},{"x":74.2e-3,"y":3271e-6},{"x":93.8e-3,"y":5689e-6},{"x":65.7e-3,"y":3557e-6},{"x":102.3e-3,"y":5403e-6},
{"x":104.7e-3,"y":4593e-6},{"x":68.1e-3,"y":4183e-6},{"x":96.2e-3,"y":3779e-6},{"x":76.6e-3,"y":4997e-6},{"x":79.7e-3,"y":3196e-6},{"x":93.1e-3,"y":5580e-6},{"x":69.5e-3,"y":3343e-6},{"x":103.3e-3,"y":5433e-6},
{"x":92.0e-3,"y":3354e-6},{"x":85.2e-3,"y":5214e-6},{"x":78.8e-3,"y":3075e-6},{"x":98.4e-3,"y":5493e-6},{"x":69.4e-3,"y":3511e-6},{"x":107.8e-3,"y":5057e-6},{"x":71.7e-3,"y":4289e-6},{"x":105.5e-3,"y":4279e-6},
{"x":108.9e-3,"y":4374e-6},{"x":72.3e-3,"y":3964e-6},{"x":100.4e-3,"y":3560e-6},{"x":80.8e-3,"y":4778e-6},{"x":83.9e-3,"y":2977e-6},{"x":97.3e-3,"y":5361e-6},{"x":73.7e-3,"y":3124e-6},{"x":107.5e-3,"y":5214e-6},
{"x":109.2e-3,"y":4036e-6},{"x":75.4e-3,"y":4046e-6},{"x":99.0e-3,"y":3259e-6},{"x":85.6e-3,"y":4823e-6},{"x":82.5e-3,"y":2832e-6},{"x":102.1e-3,"y":5250e-6},{"x":74.0e-3,"y":3118e-6},{"x":110.6e-3,"y":4964e-6},
{"x":113.2e-3,"y":4503e-6},{"x":74.2e-3,"y":3303e-6},{"x":108.6e-3,"y":3688e-6},{"x":78.8e-3,"y":4118e-6},{"x":93.7e-3,"y":2853e-6},{"x":93.7e-3,"y":4953e-6},{"x":81.2e-3,"y":2713e-6},{"x":106.2e-3,"y":5093e-6},
{"x":104.7e-3,"y":3145e-6},{"x":85.1e-3,"y":4363e-6},{"x":91.5e-3,"y":2616e-6},{"x":98.3e-3,"y":4892e-6},{"x":78.0e-3,"y":2709e-6},{"x":111.8e-3,"y":4799e-6},{"x":75.7e-3,"y":3345e-6},{"x":114.1e-3,"y":4163e-6},
{"x":105.6e-3,"y":2985e-6},{"x":86.0e-3,"y":4203e-6},{"x":92.4e-3,"y":2456e-6},{"x":99.2e-3,"y":4732e-6},{"x":78.9e-3,"y":2549e-6},{"x":112.7e-3,"y":4639e-6},{"x":76.6e-3,"y":3185e-6},{"x":115.0e-3,"y":4003e-6},
{"x":111.4e-3,"y":3210e-6},{"x":81.6e-3,"y":3640e-6},{"x":99.9e-3,"y":2495e-6},{"x":93.1e-3,"y":4355e-6},{"x":84.0e-3,"y":2235e-6},{"x":109.0e-3,"y":4615e-6},{"x":77.3e-3,"y":2652e-6},{"x":115.7e-3,"y":4198e-6},
{"x":103.6e-3,"y":2465e-6},{"x":90.2e-3,"y":4029e-6},{"x":90.2e-3,"y":2055e-6},{"x":103.6e-3,"y":4439e-6},{"x":78.6e-3,"y":2324e-6},{"x":115.2e-3,"y":4170e-6},{"x":78.6e-3,"y":3042e-6},{"x":115.2e-3,"y":3452e-6}
],
"big":[
{"i":0,"x":97.0e-3,"y":3060e-6},{"i":1,"x":96.5e-3,"y":2661e-6},{"i":2,"x":94.9e-3,"y":2232e-6},{"i":3,"x":92.3e-3,"y":1779e-6},{"i":4,"x":88.6e-3,"y":1306e-6},{"i":5,"x":84.0e-3,"y":820e-6},{"i":6,"x":78.5e-3,"y":325e-6},{"i":7,"x":72.1e-3,"y":-175e-6},{"i":8,"x":64.9e-3,"y":-673e-6},{"i":9,"x":57.0e-3,"y":-1162e-6},
{"i":10,"x":48.5e-3,"y":-1640e-6},{"i":11,"x":39.4e-3,"y":-2098e-6},{"i":12,"x":30.0e-3,"y":-2535e-6},{"i":13,"x":20.2e-3,"y":-2944e-6},{"i":14,"x":10.1e-3,"y":-3320e-6},{"i":15,"x":0,"y":-3660e-6},{"i":16,"x":-10.1e-3,"y":-3960e-6},{"i":17,"x":-20.2e-3,"y":-4216e-6},{"i":18,"x":-30.0e-3,"y":-4427e-6},{"i":19,"x":-39.4e-3,"y":-4588e-6},
{"i":20,"x":-48.5e-3,"y":-4700e-6},{"i":21,"x":-57.0e-3,"y":-4760e-6},{"i":22,"x":-64.9e-3,"y":-4767e-6},{"i":23,"x":-72.1e-3,"y":-4723e-6},{"i":24,"x":-78.5e-3,"y":-4627e-6},{"i":25,"x":-84.0e-3,"y":-4480e-6},{"i":26,"x":-88.6e-3,"y":-4284e-6},{"i":27,"x":-92.3e-3,"y":-4041e-6},{"i":28,"x":-94.9e-3,"y":-3754e-6},{"i":29,"x":-96.5e-3,"y":-3425e-6},
{"i":30,"x":-97.0e-3,"y":-3060e-6},{"i":31,"x":-96.5e-3,"y":-2661e-6},{"i":32,"x":-94.9e-3,"y":-2232e-6},{"i":33,"x":-92.3e-3,"y":-1779e-6},{"i":34,"x":-88.6e-3,"y":-1306e-6},{"i":35,"x":-84.0e-3,"y":-820e-6},{"i":36,"x":-78.5e-3,"y":-325e-6},{"i":37,"x":-72.1e-3,"y":175e-6},{"i":38,"x":-64.9e-3,"y":673e-6},{"i":39,"x":-57.0e-3,"y":1162e-6},
{"i":40,"x":-48.5e-3,"y":1640e-6},{"i":41,"x":-39.4e-3,"y":2098e-6},{"i":42,"x":-30.0e-3,"y":2535e-6},{"i":43,"x":-20.2e-3,"y":2944e-6},{"i":44,"x":-10.1e-3,"y":3320e-6},{"i":45,"x":0,"y":3660e-6},{"i":46,"x":10.1e-3,"y":3960e-6},{"i":47,"x":20.2e-3,"y":4216e-6},{"i":48,"x":30.0e-3,"y":4427e-6},{"i":49,"x":39.4e-3,"y":4588e-6},
{"i":50,"x":48.5e-3,"y":4700e-6},{"i":51,"x":57.0e-3,"y":4760e-6},{"i":52,"x":64.9e-3,"y":4767e-6},{"i":53,"x":72.1e-3,"y":4723e-6},{"i":54,"x":78.5e-3,"y":4627e-6},{"i":55,"x":84.0e-3,"y":4480e-6},{"i":56,"x":88.6e-3,"y":4284e-6},{"i":57,"x":92.3e-3,"y":4041e-6},{"i":58,"x":94.9e-3,"y":3754e-6},{"i":59,"x":96.5e-3,"y":3425e-6}
],
"small":[
{"i":0,"x":116.5e-3,"y":3660e-6},{"i":1,"x":116.2e-3,"y":3469e-6},{"i":2,"x":115.3e-3,"y":3265e-6},{"i":3,"x":113.9e-3,"y":3055e-6},{"i":4,"x":111.9e-3,"y":2845e-6},{"i":5,"x":109.5e-3,"y":2642e-6},{"i":6,"x":106.8e-3,"y":2451e-6},{"i":7,"x":103.7e-3,"y":2278e-6},{"i":8,"x":100.4e-3,"y":2130e-6},
{"i":9,"x":97.0e-3,"y":2010e-6},{"i":10,"x":93.6e-3,"y":1922e-6},{"i":11,"x":90.3e-3,"y":1868e-6},{"i":12,"x":87.2e-3,"y":1851e-6},{"i":13,"x":84.5e-3,"y":1870e-6},{"i":14,"x":82.1e-3,"y":1925e-6},{"i":15,"x":80.1e-3,"y":2015e-6},{"i":16,"x":78.7e-3,"y":2137e-6},{"i":17,"x":77.8e-3,"y":2287e-6},
{"i":18,"x":77.5e-3,"y":2460e-6},{"i":19,"x":77.8e-3,"y":2651e-6},{"i":20,"x":78.7e-3,"y":2855e-6},{"i":21,"x":80.1e-3,"y":3065e-6},{"i":22,"x":82.1e-3,"y":3275e-6},{"i":23,"x":84.5e-3,"y":3478e-6},{"i":24,"x":87.2e-3,"y":3669e-6},{"i":25,"x":90.3e-3,"y":3842e-6},{"i":26,"x":93.6e-3,"y":3990e-6},
{"i":27,"x":97.0e-3,"y":4110e-6},{"i":28,"x":100.4e-3,"y":4198e-6},{"i":29,"x":103.7e-3,"y":4252e-6},{"i":30,"x":106.8e-3,"y":4269e-6},{"i":31,"x":109.5e-3,"y":4250e-6},{"i":32,"x":111.9e-3,"y":4195e-6},{"i":33,"x":113.9e-3,"y":4105e-6},{"i":34,"x":115.3e-3,"y":3983e-6},{"i":35,"x":116.2e-3,"y":3833e-6}
]
},
"encoding":{
"x":{"field":"x","type":"quantitative","scale":{"domain":[-0.1608,0.1878],"nice":false,"zero":false},
"axis":{"values":[-0.1,0,0.1],"format":".1~f","title":"x","labelPadding":9,"titlePadding":16}},
"y":{"field":"y","type":"quantitative","scale":{"domain":[-0.00683,0.00683],"nice":false,"zero":false},
"axis":{"values":[-0.006,-0.004,-0.002,0,0.002,0.004,0.006],"format":".3~f","title":"Pₓ","labelPadding":7,"titlePadding":31}}
},
"layer":[
{"data":{"values":[{"g":"zx","o":0,"x":0,"y":-0.00683},{"g":"zx","o":1,"x":0,"y":0.00683},{"g":"zy","o":0,"x":-0.1608,"y":0},{"g":"zy","o":1,"x":0.1878,"y":0},{"g":"top","o":0,"x":-0.1608,"y":0.00683},{"g":"top","o":1,"x":0.1878,"y":0.00683}]},
 "mark":{"type":"line","color":"#000000","strokeWidth":2},
 "encoding":{"detail":{"field":"g"},"order":{"field":"o"}}},
{"data":{"name":"dots"},"mark":{"type":"point","filled":true,"shape":"circle","size":11,"color":"#0000ff","opacity":1}},
{"data":{"name":"big"},"mark":{"type":"line","interpolate":"cardinal-closed","color":"#00008b","strokeWidth":3},"encoding":{"order":{"field":"i"}}},
{"data":{"name":"small"},"mark":{"type":"line","interpolate":"cardinal-closed","color":"#00008b","strokeWidth":3},"encoding":{"order":{"field":"i"}}},
{"data":{"values":[{"g":"h","o":0,"x":0,"y":0.00366},{"g":"h","o":1,"x":0.1165,"y":0.00366},{"g":"v","o":0,"x":0.1165,"y":0.00366},{"g":"v","o":1,"x":0.1165,"y":0}]},
 "mark":{"type":"line","color":"#000000","strokeWidth":2,"strokeDash":[9,9]},
 "encoding":{"detail":{"field":"g"},"order":{"field":"o"}}},
{"data":{"values":[{"x":0,"y":0.00366},{"x":0.1165,"y":0.00366},{"x":0.1165,"y":0}]},
 "mark":{"type":"point","filled":true,"shape":"circle","size":60,"color":"#000000","opacity":1}},
{"data":{"values":[
 {"g":"r1","o":0,"x":-0.12293,"y":0.004407},{"g":"r1","o":1,"x":-0.12127,"y":0.004462},{"g":"r1","o":2,"x":-0.11878,"y":0.004091},{"g":"r1","o":3,"x":-0.11630,"y":0.004909},{"g":"r1","o":4,"x":-0.09337,"y":0.004909},
 {"g":"r2","o":0,"x":-0.05580,"y":0.004407},{"g":"r2","o":1,"x":-0.05414,"y":0.004462},{"g":"r2","o":2,"x":-0.05177,"y":0.004091},{"g":"r2","o":3,"x":-0.04972,"y":0.004909},{"g":"r2","o":4,"x":-0.02376,"y":0.004909},
 {"g":"r3","o":0,"x":0.07530,"y":-0.000360},{"g":"r3","o":1,"x":0.07669,"y":-0.000327},{"g":"r3","o":2,"x":0.07956,"y":-0.000539},{"g":"r3","o":3,"x":0.08138,"y":-0.000190},{"g":"r3","o":4,"x":0.11729,"y":-0.000190},
 {"g":"r4","o":0,"x":0.13398,"y":-0.000371},{"g":"r4","o":1,"x":0.13536,"y":-0.000338},{"g":"r4","o":2,"x":0.13796,"y":-0.000539},{"g":"r4","o":3,"x":0.13978,"y":-0.000190},{"g":"r4","o":4,"x":0.18011,"y":-0.000190},
 {"g":"b1","o":0,"x":-0.10923,"y":0.004423},{"g":"b1","o":1,"x":-0.09354,"y":0.004423},
 {"g":"b2","o":0,"x":-0.04144,"y":0.004423},{"g":"b2","o":1,"x":-0.02503,"y":0.004423}]},
 "mark":{"type":"line","color":"#2a3f5f","strokeWidth":1.3},
 "encoding":{"detail":{"field":"g"},"order":{"field":"o"}}},
{"data":{"values":[
 {"x":-0.15000,"y":0.004444,"t":"−"},{"x":-0.14199,"y":0.004444,"t":"α"},{"x":-0.09061,"y":0.004444,"t":"−"},{"x":-0.07956,"y":0.004444,"t":"α"},
 {"x":0.08204,"y":-0.000469,"t":"ϵ"},{"x":0.09227,"y":-0.000469,"t":"β"},{"x":0.12100,"y":-0.000469,"t":"+"},{"x":0.14033,"y":-0.000469,"t":"ϵ"},{"x":0.15525,"y":-0.000469,"t":"β"}]},
 "mark":{"type":"text","align":"left","baseline":"alphabetic","font":"Liberation Serif","fontStyle":"italic","fontSize":23,"color":"#2a3f5f"},
 "encoding":{"text":{"field":"t"}}},
{"data":{"values":[
 {"x":-0.13426,"y":0.004298,"t":"xI"},{"x":-0.07072,"y":0.004298,"t":"xII"},
 {"x":0.08840,"y":-0.000622,"t":"I"},{"x":0.10110,"y":-0.000622,"t":"xI"},{"x":0.14586,"y":-0.000622,"t":"II"},{"x":0.16409,"y":-0.000622,"t":"xII"}]},
 "mark":{"type":"text","align":"left","baseline":"alphabetic","font":"Liberation Serif","fontStyle":"italic","fontSize":16,"color":"#2a3f5f"},
 "encoding":{"text":{"field":"t"}}},
{"data":{"values":[
 {"x":-0.10829,"y":0.004641,"t":"ϵ"},{"x":-0.04033,"y":0.004641,"t":"ϵ"},{"x":-0.10829,"y":0.004152,"t":"β"},{"x":-0.04144,"y":0.004152,"t":"β"}]},
 "mark":{"type":"text","align":"left","baseline":"alphabetic","font":"Liberation Serif","fontStyle":"italic","fontSize":17,"color":"#2a3f5f"},
 "encoding":{"text":{"field":"t"}}},
{"data":{"values":[
 {"x":-0.10414,"y":0.004560,"t":"I"},{"x":-0.03564,"y":0.004560,"t":"II"},{"x":-0.10331,"y":0.004080,"t":"xI"},{"x":-0.03619,"y":0.004080,"t":"xII"}]},
 "mark":{"type":"text","align":"left","baseline":"alphabetic","font":"Liberation Serif","fontStyle":"italic","fontSize":12,"color":"#2a3f5f"},
 "encoding":{"text":{"field":"t"}}},
{"data":{"values":[{"x":0.1243,"x2":0.3,"y":-0.003436,"y2":-0.015}]},
 "mark":{"type":"rect","fill":"#ffffff","stroke":"#22345a","strokeWidth":3},
 "encoding":{"x2":{"field":"x2"},"y2":{"field":"y2"}}},
{"data":{"values":[
 {"g":"c1","o":0,"x":0.19006,"y":-0.004626},{"g":"c1","o":1,"x":0.18674,"y":-0.004687},{"g":"c1","o":2,"x":0.18453,"y":-0.004741},{"g":"c1","o":3,"x":0.18354,"y":-0.004811},{"g":"c1","o":4,"x":0.18453,"y":-0.004881},{"g":"c1","o":5,"x":0.18674,"y":-0.004936},{"g":"c1","o":6,"x":0.19006,"y":-0.004986},
 {"g":"c2","o":0,"x":0.19116,"y":-0.006916},{"g":"c2","o":1,"x":0.18674,"y":-0.006964},{"g":"c2","o":2,"x":0.18232,"y":-0.007017},{"g":"c2","o":3,"x":0.17928,"y":-0.007080},{"g":"c2","o":4,"x":0.18232,"y":-0.007144},{"g":"c2","o":5,"x":0.18674,"y":-0.007192},{"g":"c2","o":6,"x":0.19116,"y":-0.007233}]},
 "mark":{"type":"line","interpolate":"cardinal","color":"#ff0000","strokeWidth":2.5},
 "encoding":{"detail":{"field":"g"},"order":{"field":"o"}}},
{"data":{"values":[{"x":0.18343,"y":-0.004495,"t":"y"}]},
 "mark":{"type":"text","align":"left","baseline":"alphabetic","font":"Liberation Sans","fontSize":40,"color":"#000000"},
 "encoding":{"text":{"field":"t"}}}
]
}
